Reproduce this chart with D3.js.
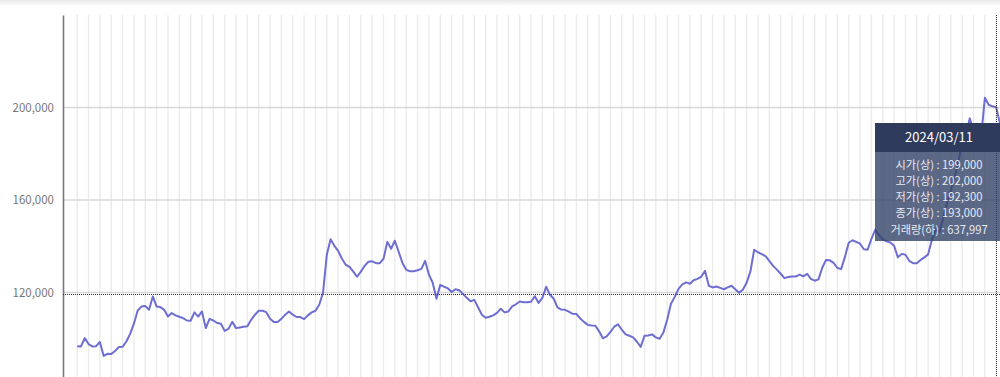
<!DOCTYPE html>
<html>
<head>
<meta charset="utf-8">
<script src="https://cdn.jsdelivr.net/npm/d3@7"></script>
<style>
  html, body { margin: 0; padding: 0; background: #fff; overflow: hidden; }
  svg { display: block; font-family: "Noto Sans CJK KR", "Noto Sans", sans-serif; }
</style>
</head>
<body>
<div id="chart"></div>
<script>
// closing prices, one per trading day (last point = 2024/03/11)
const closes = [
  96800, 96700, 100300, 97700, 96700, 96800, 98600, 92600, 93500, 93400,
  94700, 96400, 96500, 98800, 102100, 106500, 112200, 113900, 114200, 112500,
  118300, 113900, 113700, 112500, 109600, 111100, 110100, 109500, 108900, 107900,
  107800, 111400, 109600, 111800, 104600, 108600, 107900, 106800, 106500, 103400,
  104300, 107300, 104600, 104900, 105200, 105400, 108200, 110400, 112100, 112100,
  111500, 108600, 107200, 107200, 108600, 110400, 111800, 110400, 109400, 109400,
  108500, 110100, 111400, 112100, 114700, 119900, 136300, 143000, 140200, 138000,
  134600, 132000, 131100, 129000, 126800, 129000, 131500, 133300, 133500, 132700,
  132700, 134600, 141900, 138900, 142400, 137600, 132800, 129800, 129200, 129200,
  129600, 130200, 133700, 127700, 124200, 117300, 123300, 122500, 121800, 120200,
  121400, 121000, 119400, 117700, 116200, 116800, 113600, 110400, 109100, 109500,
  110100, 111200, 113000, 111400, 111800, 114000, 114900, 116100, 115800, 115800,
  116000, 118400, 115500, 117700, 122500, 119000, 117300, 113600, 112600, 112500,
  111700, 110800, 110700, 108800, 107300, 106000, 105700, 105600, 103200, 100200,
  101000, 103000, 105200, 106200, 103900, 101900, 101300, 100600, 98700, 96500,
  101300, 101400, 101900, 100600, 100000, 102700, 108200, 115100, 118100, 121600,
  123500, 124400, 123800, 125300, 125900, 126800, 129400, 122900, 122200, 122600,
  122000, 121400, 122200, 122900, 121400, 119900, 121200, 124200, 129000, 138500,
  137400, 136600, 135700, 133700, 131500, 129900, 128100, 126200, 126700, 126900,
  126900, 127700, 127000, 128100, 125900, 125100, 125700, 130700, 134100, 133900,
  132800, 130600, 130100, 135400, 141500, 142600, 141900, 141100, 138700, 138500,
  143200, 147100, 144900, 143000, 142100, 141600, 140200, 135200, 136700, 136300,
  133700, 132700, 132600, 134100, 135200, 136500, 142800, 147300, 146200, 152300,
  158800, 164000, 169600, 176600, 184300, 188200, 195300, 189900, 188200, 187200,
  204200, 201200, 200500, 200100, 193000
];

const yTicks = [120000, 160000, 200000];
const gridEvery = 3;

const tipDate = "2024/03/11";
const tipLabels = ["시가(상)", "고가(상)", "저가(상)", "종가(상)", "거래량(하)"];
const tipValues = [199000, 202000, 192300, 193000, 637997];

const mouse = { x: 996.5, y: 294.5 };

const width = 1000, height = 377;
const plot = { left: 63, top: 15, bottom: 385 };

const svg = d3.select("#chart").append("svg")
  .attr("width", width)
  .attr("height", height);

// faint shade at the very top
const grad = svg.append("defs").append("linearGradient")
  .attr("id", "topShade").attr("x1", 0).attr("x2", 0).attr("y1", 0).attr("y2", 1);
grad.append("stop").attr("offset", "0%").attr("stop-color", "#e9e9e9");
grad.append("stop").attr("offset", "100%").attr("stop-color", "#ffffff");
svg.append("rect").attr("x", 0).attr("y", 0).attr("width", width).attr("height", 6)
  .attr("fill", "url(#topShade)");

let x = d3.scaleLinear()
  .domain([-3.75, closes.length - 1])
  .range([plot.left, width]);

let y = d3.scaleLinear()
  .domain([80000, 240000])
  .range([plot.bottom, plot.top]);

// vertical grid, one line every 3 trading days
let vIdx = d3.range(0, closes.length, gridEvery);
svg.append("g").attr("class", "vgrid")
  .selectAll("line").data(vIdx).join("line")
  .attr("x1", (d) => x(d)).attr("x2", (d) => x(d))
  .attr("y1", plot.top).attr("y2", plot.bottom)
  .attr("stroke", "#ebebeb")
  .attr("stroke-width", 1.4);

// horizontal grid
svg.append("g").attr("class", "hgrid")
  .selectAll("line").data(yTicks).join("line")
  .attr("x1", plot.left).attr("x2", width)
  .attr("y1", (d) => y(d)).attr("y2", (d) => y(d))
  .attr("stroke", "#d8d8d8")
  .attr("stroke-width", 1.4);

// y axis
let yAxis = svg.append("g")
  .attr("transform", `translate(${plot.left},0)`)
  .call(d3.axisLeft(y).tickValues(yTicks).tickSize(0).tickPadding(9).tickFormat(d3.format(",")));
yAxis.select(".domain").attr("stroke", "#777").attr("stroke-width", 1.6);
yAxis.selectAll("text")
  .attr("fill", "#777")
  .style("font-size", "11.5px")
  .style("font-family", "'Noto Sans CJK KR', sans-serif");

// price line
let line = d3.line()
  .x((d, i) => x(i))
  .y((d) => y(d));

svg.append("path")
  .datum(closes)
  .attr("fill", "none")
  .attr("stroke", "#6e6ed2")
  .attr("stroke-width", 2)
  .attr("stroke-linejoin", "round")
  .attr("d", line);

// crosshair
let cross = svg.append("g").attr("stroke", "#333").attr("stroke-width", 1).attr("stroke-dasharray", "1,1");
cross.append("line").attr("x1", plot.left).attr("x2", width).attr("y1", mouse.y).attr("y2", mouse.y);
cross.append("line").attr("x1", mouse.x).attr("x2", mouse.x).attr("y1", plot.top).attr("y2", height);

// tooltip
const tip = { x: 875, y: 123, w: 128, head: 29, rowH: 16.3, bodyH: 89 };
let tg = svg.append("g").attr("transform", `translate(${tip.x},${tip.y})`);
tg.append("rect")
  .attr("x", 0).attr("y", tip.head).attr("width", tip.w).attr("height", tip.bodyH)
  .attr("fill", "rgb(50,66,104)").attr("fill-opacity", 0.8);
tg.append("rect")
  .attr("x", 0).attr("y", 0).attr("width", tip.w).attr("height", tip.head)
  .attr("fill", "#2e3b5c");
tg.append("text")
  .attr("x", tip.w / 2).attr("y", tip.head / 2)
  .attr("dy", "0.36em")
  .attr("text-anchor", "middle")
  .attr("fill", "#fff")
  .style("font-size", "13px")
  .text(tipDate);

// rows as tspans of one text block
let rows = tg.append("text")
  .attr("text-anchor", "middle")
  .attr("fill", "#e8ebf2")
  .style("font-size", "11.2px");
rows.selectAll("tspan").data(tipLabels).join("tspan")
  .attr("x", tip.w / 2)
  .attr("y", (d, i) => tip.head + 12.5 + i * tip.rowH)
  .attr("dy", "0.36em")
  .text((d, i) => `${d} : ${d3.format(",")(tipValues[i])}`);
</script>
</body>
</html>
